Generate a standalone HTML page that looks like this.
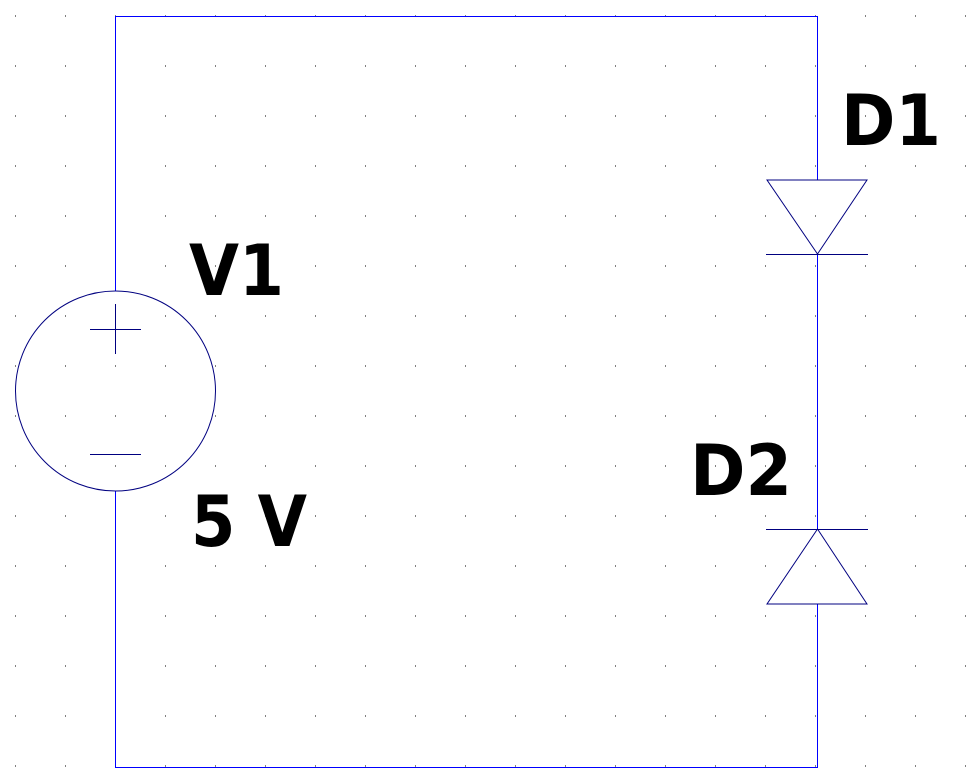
<!DOCTYPE html>
<html><head><style>
html,body{margin:0;padding:0;background:#fff;}
svg{display:block;}
text{font-family:"DejaVu Sans","Liberation Sans",sans-serif;font-weight:bold;fill:#000;}
</style></head><body>
<svg width="979" height="784" xmlns="http://www.w3.org/2000/svg">
<defs>
<pattern id="g" x="15" y="15.5" width="50" height="50" patternUnits="userSpaceOnUse">
<rect x="0" y="0" width="1" height="1" fill="#000"/>
</pattern>
</defs>
<rect width="979" height="784" fill="url(#g)"/>
<g fill="#0000ff">
<rect x="115" y="16" width="1" height="275"/>
<rect x="115" y="16" width="703" height="1"/>
<rect x="817" y="16" width="1" height="164"/>
<rect x="115" y="491" width="1" height="277"/>
<rect x="115" y="767" width="703" height="1"/>
<rect x="817" y="604" width="1" height="164"/>
<rect x="817" y="254" width="1" height="275"/>
</g>
<g stroke="#000080" stroke-width="1" fill="none">
<circle cx="115.5" cy="391" r="100"/>
<line x1="115.5" y1="304" x2="115.5" y2="354" shape-rendering="crispEdges"/>
<line x1="90" y1="329.5" x2="141" y2="329.5" shape-rendering="crispEdges"/>
<line x1="90" y1="454.5" x2="141" y2="454.5" shape-rendering="crispEdges"/>
<polygon points="767,180 867,180 817.5,254"/>
<line x1="766" y1="254.5" x2="868" y2="254.5" shape-rendering="crispEdges"/>
<polygon points="767,604 867,604 817.5,529"/>
<line x1="766" y1="529.5" x2="868" y2="529.5" shape-rendering="crispEdges"/>
</g>
<text x="189" y="295" font-size="70" textLength="95" lengthAdjust="spacingAndGlyphs">V1</text>
<text x="191" y="546" font-size="70" textLength="116" lengthAdjust="spacingAndGlyphs">5 V</text>
<text x="841" y="145" font-size="70" textLength="100" lengthAdjust="spacingAndGlyphs">D1</text>
<text x="690" y="495" font-size="70" textLength="102" lengthAdjust="spacingAndGlyphs">D2</text>
</svg>
</body></html>
